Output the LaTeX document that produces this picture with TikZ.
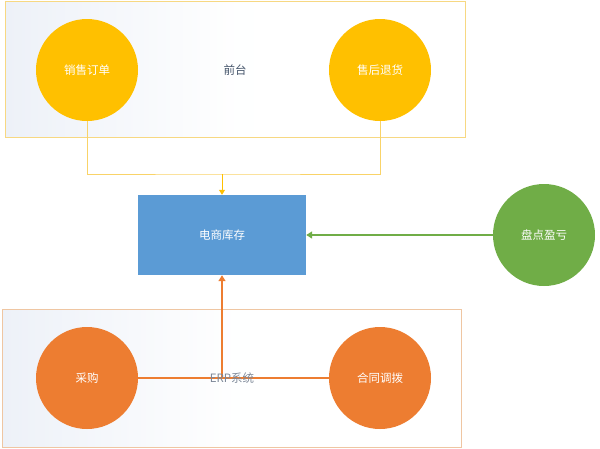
\documentclass[tikz,border=0pt]{standalone}
\usepackage{fontspec}
\setmainfont{Noto Sans CJK SC}
\usetikzlibrary{arrows.meta}
\definecolor{cyellow}{HTML}{FFC000}
\definecolor{corange}{HTML}{ED7D31}
\definecolor{cblue}{HTML}{5B9BD5}
\definecolor{cgreen}{HTML}{70AD47}
\definecolor{frameY}{HTML}{F7D882}
\definecolor{frameO}{HTML}{EFC6A2}
\definecolor{bgtint}{HTML}{EDF1F8}
\definecolor{lblue}{HTML}{44546A}
\tikzset{
  circ/.style={circle, minimum size=102pt, inner sep=0pt, text=white, font=\fontsize{11.5}{13}\selectfont},
  group/.style={draw, line width=1pt, left color=bgtint, right color=white, middle color=white!97!bgtint},
  lab/.style={text=lblue, font=\fontsize{11.5}{13}\selectfont},
  tipY/.style={-{Triangle[length=5pt,width=6pt]}},
  tipS/.style={-{Triangle[length=6pt,width=7pt]}}
}
\begin{document}
\begin{tikzpicture}[x=1pt,y=-1pt]
\useasboundingbox (0,0) rectangle (600,448);
% groups
\path[group, draw=frameY] (5,1) rectangle (465,137);
\path[group, draw=frameO] (2,309) rectangle (461,447);
\node[lab] (qt) at (235,70) {前台};
% top circles
\node[circ, fill=cyellow] (xs) at (87,70) {销售订单};
\node[circ, fill=cyellow] (sh) at (380,70) {售后退货};
% box
\node[draw=none, fill=cblue, minimum width=168pt, minimum height=80pt, inner sep=0pt, text=white, font=\fontsize{11.5}{13}\selectfont] (kc) at (222,235) {电商库存};
% green
\node[circ, fill=cgreen] (pd) at (544,235) {盘点盈亏};
% bottom circles
\node[circ, fill=corange] (cg) at (87,378) {采购};
\node[circ, fill=corange] (ht) at (380,378) {合同调拨};
% top connectors
\coordinate (tj) at (222,174);
\coordinate (mid) at (222,378);
\draw[frameY!80!cyellow, line width=1pt] (xs.south) |- (tj) -| (sh.south);
\draw[cyellow, line width=1pt, tipY] (tj) -- (kc.north);
% green connector
\draw[cgreen, line width=2pt, tipS] (pd.west) -- (kc.east);
% bottom connectors
\draw[corange, line width=2pt] (cg.east) -- (ht.west);
\draw[corange, line width=2pt, tipS] (mid) -- (kc.south);
\node[lab, text=lblue!70] (erp) at (232,378) {ERP系统};
\end{tikzpicture}
\end{document}
